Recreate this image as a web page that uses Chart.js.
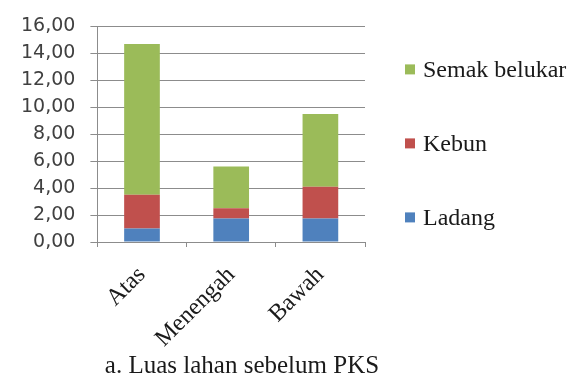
<!DOCTYPE html>
<html>
<head>
<meta charset="utf-8">
<script src="https://cdn.jsdelivr.net/npm/chart.js@4.4.1/dist/chart.umd.min.js"></script>
<style>
  html, body { margin: 0; padding: 0; background: #ffffff; }
  #wrap { position: relative; width: 582px; height: 380px; }
</style>
</head>
<body>
<div id="wrap"><canvas id="c" width="582" height="380"></canvas></div>
<script>
// Land area per slope position (ha)
const categories = ['Atas', 'Menengah', 'Bawah'];
const ladang = [1.0, 1.75, 1.75];
const kebun = [2.5, 0.75, 2.35];
const semakBelukar = [11.2, 3.1, 5.4];
const seriesNames = ['Ladang', 'Kebun', 'Semak belukar'];
const seriesColors = ['#4F81BD', '#C0504D', '#9BBB59'];
const yTickValues = [0, 2, 4, 6, 8, 10, 12, 14, 16];
const yTickLabels = ['0,00', '2,00', '4,00', '6,00', '8,00', '10,00', '12,00', '14,00', '16,00'];
const captionText = 'a. Luas lahan sebelum PKS';

const serif = '"Liberation Serif", "Times New Roman", serif';
const sans = '"DejaVu Sans", Verdana, sans-serif';

// Legend on the right (top entry = top of the stack) and caption below the plot
const sideLegend = {
  id: 'sideLegend',
  afterDraw(chart) {
    const ctx = chart.ctx;
    const area = chart.chartArea;
    const ds = chart.data.datasets;
    const x0 = area.right + 40;
    const rows = ds.length;
    const gap = 74;
    ctx.save();
    ctx.font = '24px ' + serif;
    ctx.textBaseline = 'middle';
    ctx.textAlign = 'left';
    for (let r = 0; r < rows; r++) {
      const d = ds[rows - 1 - r];
      const yc = area.top + 43 + r * gap;
      ctx.fillStyle = d.backgroundColor;
      ctx.fillRect(x0, yc - 5, 10, 10);
      ctx.fillStyle = '#1a1a1a';
      ctx.fillText(d.label, x0 + 18, yc + 1);
    }
    ctx.font = '25px ' + serif;
    ctx.textAlign = 'center';
    ctx.textBaseline = 'alphabetic';
    ctx.fillStyle = '#1a1a1a';
    ctx.fillText(captionText, 242, 373);
    ctx.restore();
  }
};

new Chart(document.getElementById('c'), {
  type: 'bar',
  data: {
    labels: categories,
    datasets: [
      { label: seriesNames[0], data: ladang, backgroundColor: seriesColors[0] },
      { label: seriesNames[1], data: kebun, backgroundColor: seriesColors[1] },
      { label: seriesNames[2], data: semakBelukar, backgroundColor: seriesColors[2] }
    ]
  },
  options: {
    responsive: false,
    animation: false,
    devicePixelRatio: 1,
    layout: { padding: { left: 6, top: 12, right: 217, bottom: 13 } },
    datasets: { bar: { categoryPercentage: 1.0, barPercentage: 0.4, borderWidth: 0 } },
    plugins: {
      legend: { display: false },
      title: { display: false },
      tooltip: { enabled: false }
    },
    scales: {
      x: {
        stacked: true,
        grid: { display: true, offset: true, drawOnChartArea: false, drawTicks: true, tickLength: 5, color: '#8c8c8c' },
        border: { display: true, color: '#8c8c8c', width: 1 },
        ticks: {
          minRotation: 45, maxRotation: 45, padding: 14,
          color: '#1a1a1a',
          font: { family: serif, size: 24 }
        }
      },
      y: {
        stacked: true,
        min: 0, max: 16,
        afterBuildTicks(scale) { scale.ticks = yTickValues.map(v => ({ value: v })); },
        grid: { color: '#8c8c8c', lineWidth: 1, drawTicks: true, tickLength: 7 },
        border: { display: true, color: '#8c8c8c', width: 1 },
        ticks: {
          autoSkip: false,
          padding: 15,
          color: '#404040',
          font: { family: sans, size: 19 },
          callback(value) { return yTickLabels[yTickValues.indexOf(value)]; }
        }
      }
    }
  },
  plugins: [sideLegend]
});
</script>
</body>
</html>
